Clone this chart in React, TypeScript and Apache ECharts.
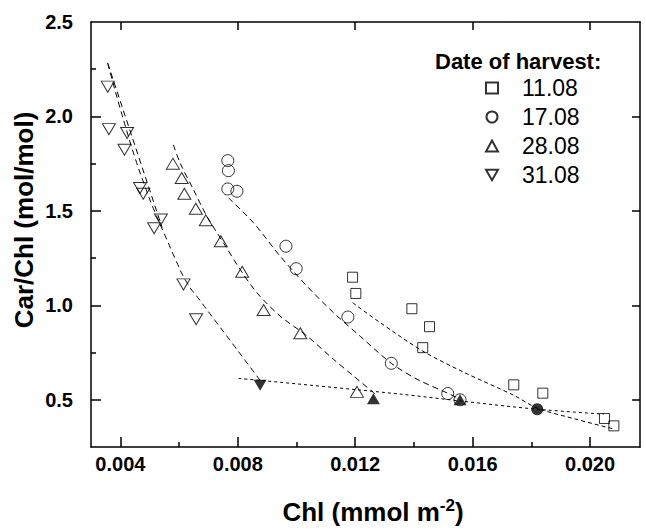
import React, { useEffect, useRef } from "react";
import * as echarts from "echarts";

// ---- Data ----
const seriesNames = ["11.08", "17.08", "28.08", "31.08"];

const harvest1108: [number, number][] = [
  [0.01191, 1.149], [0.01202, 1.063], [0.01393, 0.982], [0.01453, 0.887], [0.0143, 0.776],
  [0.0174, 0.579], [0.01839, 0.535], [0.02049, 0.401], [0.02081, 0.362],
];
const harvest1708: [number, number][] = [
  [0.00766, 1.766], [0.00768, 1.713], [0.00766, 1.616], [0.00797, 1.604], [0.00964, 1.313],
  [0.00999, 1.194], [0.01175, 0.938], [0.01323, 0.693], [0.01515, 0.533], [0.01557, 0.5],
];
const harvest2808: [number, number][] = [
  [0.00579, 1.75], [0.00609, 1.674], [0.00618, 1.591], [0.00657, 1.511], [0.00691, 1.45],
  [0.00742, 1.339], [0.00815, 1.178], [0.00888, 0.975], [0.01013, 0.852], [0.01206, 0.542],
];
const harvest3108: [number, number][] = [
  [0.00357, 2.158], [0.00361, 1.933], [0.00423, 1.912], [0.00414, 1.824], [0.00467, 1.621],
  [0.00478, 1.591], [0.00538, 1.454], [0.00515, 1.408], [0.00615, 1.111], [0.00658, 0.926],
];

const filledDown: [number, number][] = [[0.00876, 0.577]];
const filledUp: [number, number][] = [[0.01262, 0.505], [0.01557, 0.5]];
const filledCircle: [number, number][] = [[0.0182, 0.45]];

const fit3108: [number, number][] = [
  [0.003569, 2.282], [0.00375, 2.177], [0.003989, 2.045], [0.004227, 1.919], [0.0045, 1.781],
  [0.004841, 1.629], [0.005182, 1.491], [0.005523, 1.37], [0.005864, 1.248], [0.006263, 1.121],
  [0.006716, 1.025], [0.007228, 0.919], [0.007739, 0.814], [0.008251, 0.708], [0.008762, 0.603],
];
const fit3108b: [number, number][] = [
  [0.003569, 2.282], [0.005421, 1.412],
];
const fit2808: [number, number][] = [
  [0.005806, 1.85], [0.006034, 1.754], [0.006488, 1.613], [0.006945, 1.472], [0.007511, 1.331],
  [0.00808, 1.19], [0.008649, 1.067], [0.009444, 0.943], [0.010354, 0.838], [0.011261, 0.714],
  [0.011943, 0.626], [0.012683, 0.53],
];
const fit1708: [number, number][] = [
  [0.007681, 1.569], [0.008534, 1.437], [0.009444, 1.26], [0.010354, 1.102], [0.011261, 0.961],
  [0.012172, 0.836], [0.013229, 0.693], [0.014105, 0.609], [0.015148, 0.535], [0.015581, 0.503],
];
const fit1108: [number, number][] = [
  [0.011909, 1.014], [0.012853, 0.908], [0.014296, 0.758], [0.015694, 0.646], [0.017398, 0.524],
  [0.018196, 0.456], [0.019502, 0.398], [0.020808, 0.345],
];
const fitEndPoints: [number, number][] = [
  [0.008022, 0.613], [0.008762, 0.603], [0.013535, 0.53], [0.015557, 0.494], [0.018196, 0.45],
  [0.020467, 0.424],
];

const xMajorTicks = [0.004, 0.008, 0.012, 0.016, 0.02];
const xMinorTicks = [0.006, 0.01, 0.014, 0.018];
const yMajorTicks = [0.5, 1.0, 1.5, 2.0];
const yMinorTicks = [0.75, 1.25, 1.75, 2.25];
const yLabels = [0.5, 1.0, 1.5, 2.0, 2.5];

const FONT = "'Liberation Sans', Arial, Helvetica, sans-serif";
const DOWN_TRI = "path://M0,0 L10,0 L5,8.66 Z";

export default function App() {
  const ref = useRef<HTMLDivElement>(null);
  useEffect(() => {
    if (!ref.current) return;
    const chart = echarts.init(ref.current, null, { renderer: "svg" });
    const black = "#000";
    const hollow = { color: "transparent", borderColor: black, borderWidth: 1 };
    const xRange = { min: 0.003, max: 0.0217 };
    const yRange = { min: 0.25, max: 2.5 };
    const axisLine = { show: true, onZero: false, lineStyle: { color: black, width: 1.5 } };
    const noSplit = { show: false };

    const fitLine = (data: [number, number][], dash: number[], smooth = 0.3) => ({
      type: "line",
      data,
      smooth,
      showSymbol: false,
      symbol: "none",
      silent: true,
      lineStyle: { color: black, width: 1, type: dash },
      z: 1,
    });

    chart.setOption({
      animation: false,
      backgroundColor: "#fff",
      grid: { left: 91, top: 22, right: 6, bottom: 82, containLabel: false },
      xAxis: [
        {
          type: "value", ...xRange, position: "bottom",
          axisLine,
          axisTick: { show: true, inside: true, length: 10, customValues: xMajorTicks, lineStyle: { color: black, width: 1.5 } },
          axisLabel: {
            customValues: xMajorTicks,
            formatter: (v: number) => v.toFixed(3),
            fontFamily: FONT, fontWeight: "bold", fontSize: 20, color: black, margin: 7,
          },
          splitLine: noSplit,
        },
        {
          type: "value", ...xRange, position: "bottom",
          axisLine: { show: false },
          axisTick: { show: true, inside: true, length: 5, customValues: xMinorTicks, lineStyle: { color: black, width: 1.5 } },
          axisLabel: { show: false },
          splitLine: noSplit,
        },
        {
          type: "value", ...xRange, position: "top",
          axisLine,
          axisTick: { show: true, inside: true, length: 8, customValues: xMajorTicks, lineStyle: { color: black, width: 1.5 } },
          axisLabel: { show: false },
          splitLine: noSplit,
        },
      ],
      yAxis: [
        {
          type: "value", ...yRange, position: "left",
          axisLine,
          axisTick: { show: true, inside: true, length: 10, customValues: yMajorTicks, lineStyle: { color: black, width: 1.5 } },
          axisLabel: {
            customValues: yLabels,
            formatter: (v: number) => v.toFixed(1),
            fontFamily: FONT, fontWeight: "bold", fontSize: 20, color: black, margin: 18,
          },
          splitLine: noSplit,
        },
        {
          type: "value", ...yRange, position: "left",
          axisLine: { show: false },
          axisTick: { show: true, inside: true, length: 5, customValues: yMinorTicks, lineStyle: { color: black, width: 1.5 } },
          axisLabel: { show: false },
          splitLine: noSplit,
        },
        {
          type: "value", ...yRange, position: "right",
          axisLine,
          axisTick: { show: true, inside: true, length: 8, customValues: yMajorTicks, lineStyle: { color: black, width: 1.5 } },
          axisLabel: { show: false },
          splitLine: noSplit,
        },
      ],
      legend: {
        data: seriesNames,
        orient: "vertical",
        left: 480,
        top: 71,
        itemWidth: 12,
        itemHeight: 11,
        itemGap: 5,
        selectedMode: false,
        textStyle: { fontFamily: FONT, fontSize: 23, color: black, lineHeight: 24, padding: [0, 0, 0, 19] },
      },
      graphic: [
        {
          type: "text", left: 435, top: 50,
          style: { text: "Date of harvest:", font: `bold 22px ${FONT}`, fill: black },
        },
        {
          type: "text", x: 373, y: 512,
          style: {
            text: "{a|Chl (mmol m}{b|-2}{a|)}",
            align: "center", verticalAlign: "middle",
            rich: {
              a: { fontFamily: FONT, fontWeight: "bold", fontSize: 26, fill: black, lineHeight: 30 },
              b: { fontFamily: FONT, fontWeight: "bold", fontSize: 17, fill: black, lineHeight: 30, verticalAlign: "top", padding: [0, 0, 12, 0] },
            },
          },
        },
        {
          type: "text", x: 24, y: 220, rotation: Math.PI / 2,
          style: {
            text: "Car/Chl (mol/mol)",
            align: "center", verticalAlign: "middle",
            font: `bold 26px ${FONT}`, fill: black,
          },
        },
      ],
      series: [
        fitLine(fit3108, [6, 4], 0.5),
        fitLine(fit3108b, [6, 4], 0),
        fitLine(fit2808, [6, 4]),
        fitLine(fit1708, [6, 4]),
        fitLine(fit1108, [4, 3]),
        fitLine(fitEndPoints, [3, 3]),
        { name: "11.08", type: "scatter", data: harvest1108, symbol: "rect", symbolSize: 10, itemStyle: hollow, z: 3 },
        { name: "17.08", type: "scatter", data: harvest1708, symbol: "circle", symbolSize: 12, itemStyle: hollow, z: 3 },
        { name: "28.08", type: "scatter", data: harvest2808, symbol: "triangle", symbolSize: [13, 11], itemStyle: hollow, z: 3 },
        { name: "31.08", type: "scatter", data: harvest3108, symbol: DOWN_TRI, symbolSize: [13, 11], itemStyle: hollow, z: 3 },
        { type: "scatter", data: filledDown, symbol: DOWN_TRI, symbolSize: [13, 11], itemStyle: { color: black }, z: 4 },
        { type: "scatter", data: filledUp, symbol: "triangle", symbolSize: [13, 11], itemStyle: { color: black }, z: 4 },
        { type: "scatter", data: filledCircle, symbol: "circle", symbolSize: 12, itemStyle: { color: black }, z: 4 },
      ],
    });
    return () => chart.dispose();
  }, []);
  return (
    <div
      ref={ref}
      style={{ position: "fixed", left: 0, top: 0, width: 646, height: 529, background: "#fff" }}
    />
  );
}
